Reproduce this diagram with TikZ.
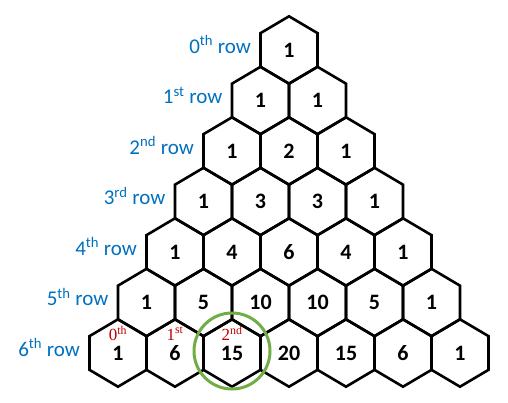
\documentclass[tikz,border=0pt]{standalone}
\usepackage{fontspec}
\setmainfont{Carlito}
\newfontfamily\ordfont{Liberation Serif}
\usetikzlibrary{positioning,calc}
\definecolor{rowblue}{HTML}{0070C0}
\definecolor{ordred}{HTML}{C00000}
\definecolor{ringgreen}{HTML}{70AD47}
\tikzstyle{cell}=[font=\fontsize{22}{25}\selectfont\bfseries,inner sep=0pt]
\tikzstyle{hexline}=[draw=black,line width=2.6pt,line join=miter]
\tikzstyle{rowlabel}=[font=\fontsize{21}{24}\selectfont,text=rowblue,inner sep=0pt]
\tikzstyle{ordlabel}=[font=\ordfont\fontsize{17}{19}\selectfont,text=ordred,inner sep=0pt]
\tikzstyle{ring}=[circle,draw=ringgreen,line width=3pt,minimum size=76pt,inner sep=0pt]

\begin{document}
\begin{tikzpicture}[x=1pt,y=-1pt]
    \useasboundingbox (0,0) rectangle (508,403);

    % rows of the triangle, one hexagon per entry
    \foreach \r/\sfx/\vals in {0/th/{1},1/st/{1,1},2/nd/{1,2,1},3/rd/{1,3,3,1},4/th/{1,4,6,4,1},5/th/{1,5,10,10,5,1},6/th/{1,6,15,20,15,6,1}} {
        \foreach \v [count=\k from 0] in \vals {
            \node[cell] (h-\r-\k) at (289 - 28.5*\r + 57*\k, 50 + 50.5*\r) {\v};
            \draw[hexline] (h-\r-\k.center) ++(0,-33.7) -- ++(28.5,16.85) -- ++(0,33.7)
                -- ++(-28.5,16.85) -- ++(-28.5,-16.85) -- ++(0,-33.7) -- cycle;
        }
        \node[rowlabel,anchor=base east] (lab-\r) at ([xshift=-38pt,yshift=4pt]h-\r-0.base) {\r\textsuperscript{\sfx} row};
    }

    % position numbers in the last row
    \foreach \k/\sfx in {0/th,1/st,2/nd}
        \node[ordlabel,above=5pt of h-6-\k] (ord-\k) {\k\textsuperscript{\sfx}};

    \node[ring] (ring) at ([yshift=2pt]h-6-2) {};

\end{tikzpicture}
\end{document}
